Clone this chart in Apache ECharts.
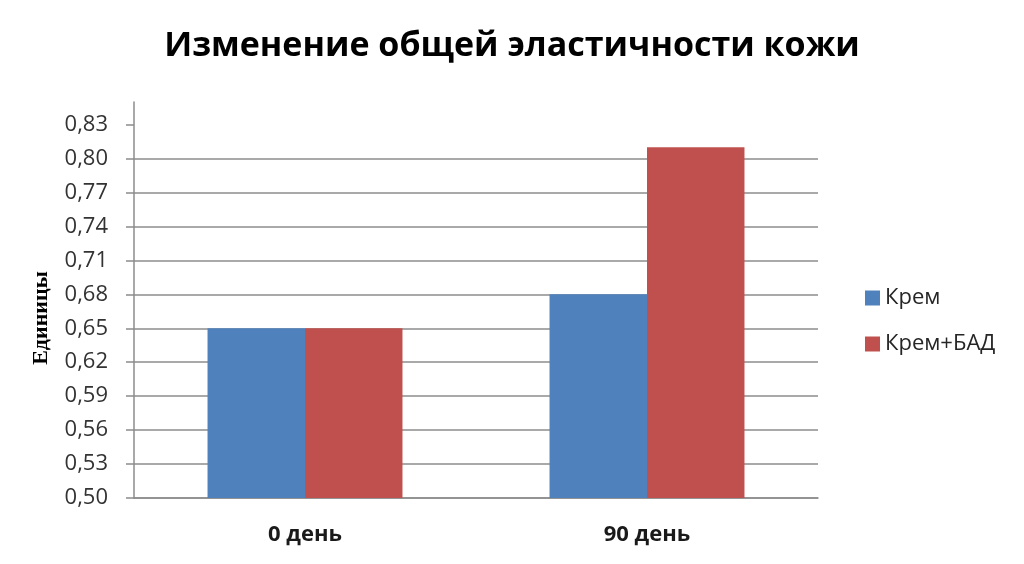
<!DOCTYPE html>
<html><head><meta charset="utf-8">
<script src="https://cdn.jsdelivr.net/npm/echarts@6/dist/echarts.min.js"></script>
<style>html,body{margin:0;padding:0;background:#fff}#c{width:1024px;height:564px}</style>
</head><body><div id="c"></div>
<script>
var categories = ['0 день', '90 день'];
var seriesNames = ['Крем', 'Крем+БАД'];
var cream = [0.65, 0.68];
var creamBad = [0.65, 0.81];
var yTicks = [0.50, 0.53, 0.56, 0.59, 0.62, 0.65, 0.68, 0.71, 0.74, 0.77, 0.80, 0.83];

var chart = echarts.init(document.getElementById('c'));
chart.setOption({
  animation: false,
  title: {
    text: 'Изменение общей эластичности кожи',
    left: 507, textAlign: 'center', top: 24,
    textStyle: { fontFamily: 'Open Sans', fontWeight: 'bold', fontSize: 34, color: '#000' }
  },
  legend: {
    orient: 'vertical', left: 860, top: 282, itemGap: 24,
    itemWidth: 15, itemHeight: 15, icon: 'rect',
    textStyle: { fontFamily: 'Open Sans', fontSize: 22, color: '#262626' },
    data: seriesNames
  },
  grid: { left: 134, right: 206, top: 102, bottom: 66 },
  xAxis: {
    type: 'category', data: categories,
    axisLine: { lineStyle: { color: '#8c8c8c', width: 1.5 } },
    axisTick: { show: false },
    axisLabel: { fontFamily: 'Open Sans', fontWeight: 'bold', fontSize: 22, color: '#1a1a1a', margin: 26 }
  },
  yAxis: {
    type: 'value', min: 0.5, max: 0.85,
    name: 'Единицы', nameLocation: 'middle', nameGap: 82, nameRotate: 90,
    nameTextStyle: { fontFamily: 'Liberation Serif', fontWeight: 'bold', fontSize: 22, color: '#000', padding: [0, 0, 0, -36] },
    axisLine: { show: true, lineStyle: { color: '#8c8c8c', width: 1.5 } },
    axisTick: { show: true, length: 8, customValues: yTicks, lineStyle: { color: '#8c8c8c', width: 1.5 } },
    axisLabel: { customValues: yTicks, fontFamily: 'Open Sans', fontSize: 22, color: '#333', margin: 26,
      formatter: function (v) { return v.toFixed(2).replace('.', ','); } },
    splitLine: { show: true, showMaxLine: false, lineStyle: { color: '#8c8c8c', width: 1.5 } }
  },
  series: [
    { name: seriesNames[0], type: 'bar', data: cream, barGap: '0%', barCategoryGap: '43%',
      itemStyle: { color: '#4F81BD' } },
    { name: seriesNames[1], type: 'bar', data: creamBad, barGap: '0%', barCategoryGap: '43%',
      itemStyle: { color: '#C0504D' } }
  ]
});
</script></body></html>
